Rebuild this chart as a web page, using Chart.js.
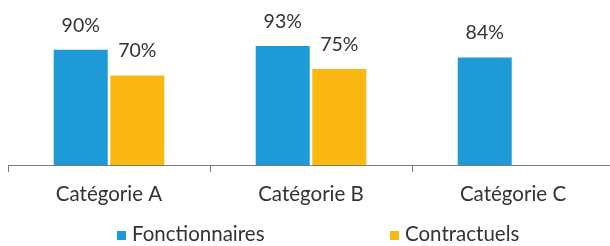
<!DOCTYPE html>
<html>
<head>
<meta charset="utf-8">
<script src="https://cdn.jsdelivr.net/npm/chart.js@4/dist/chart.umd.min.js"></script>
<style>
    html, body { margin:0; padding:0; background:#fff; overflow:hidden; }
    #wrap { width:610px; height:246px; overflow:hidden; }
</style>
</head>
<body>
<div id="wrap"><canvas id="bar_chart" width="616" height="246"></canvas></div>
<script>
let categories = ["Catégorie A", "Catégorie B", "Catégorie C"];
let fonctionnaires = [90, 93, 84];
let contractuels = [70, 75, null];
let seriesNames = ["Fonctionnaires", "Contractuels"];
let seriesColors = ["#1e9bd6", "#fbb813"];

let fontName = "Lato, 'Liberation Sans', sans-serif";

// valeurs au-dessus des barres
let valueLabels = {
    id:"valueLabels",
    afterDatasetsDraw(chart){
        let ctx = chart.ctx;
        ctx.save();
        ctx.font = "19.5px " + fontName;
        ctx.fillStyle = "#333333";
        ctx.textAlign = "center";
        ctx.textBaseline = "alphabetic";
        chart.data.datasets.forEach(function(ds, i){
            chart.getDatasetMeta(i).data.forEach(function(bar, j){
                if(ds.data[j] == null) return;
                ctx.fillText(ds.data[j] + "%", bar.x, bar.y - 18);
            })
        })
        ctx.restore();
    }
};

// légende en bas, espacée comme dans Excel
let bottomLegend = {
    id:"bottomLegend",
    afterDraw(chart){
        let ctx = chart.ctx;
        let startX = [117, 390];
        ctx.save();
        ctx.font = "20.5px " + fontName;
        ctx.textBaseline = "alphabetic";
        ctx.textAlign = "left";
        chart.data.datasets.forEach(function(ds, i){
            ctx.fillStyle = ds.backgroundColor;
            ctx.fillRect(startX[i], 231, 9, 9);
            ctx.fillStyle = "#333333";
            ctx.fillText(ds.label, startX[i] + 15, 241);
        })
        ctx.restore();
    }
};

new Chart(document.getElementById("bar_chart"), {
    type:"bar",
    data:{
        labels:categories,
        datasets:[
            {
                label:seriesNames[0],
                data:fonctionnaires,
                backgroundColor:seriesColors[0]
            },
            {
                label:seriesNames[1],
                data:contractuels,
                backgroundColor:seriesColors[1]
            }
        ]
    },
    options:{
        responsive:false,
        animation:false,
        layout:{ padding:{ top:37, left:8, right:2, bottom:35 } },
        categoryPercentage:0.56,
        barPercentage:0.955,
        plugins:{
            legend:{ display:false },
            tooltip:{ enabled:false }
        },
        scales:{
            x:{
                offset:true,
                afterFit(scale){ scale.height = 46; },
                grid:{
                    display:true,
                    drawOnChartArea:false,
                    offset:true,
                    tickLength:7,
                    color:"#7a7a7a"
                },
                border:{ display:true, color:"#7a7a7a", width:1 },
                ticks:{
                    color:"#333333",
                    padding:10,
                    font:{ family:fontName, size:20.5 }
                }
            },
            y:{
                display:false,
                min:0,
                max:100
            }
        }
    },
    plugins:[valueLabels, bottomLegend]
});
</script>
</body>
</html>
